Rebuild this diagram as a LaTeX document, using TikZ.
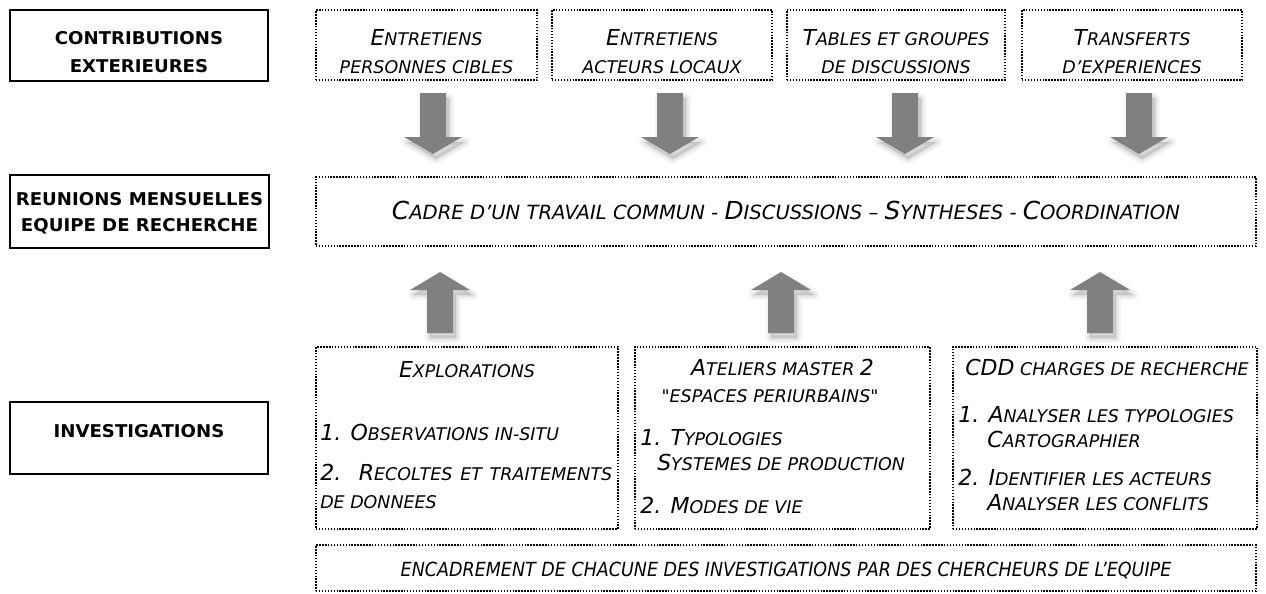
\documentclass[tikz,border=0pt]{standalone}
\usepackage{fontspec}
\setmainfont{DejaVu Sans}[Ligatures=TeXOff]
\newfontfamily\hdfont{DejaVu Sans}[FakeStretch=1.03]
\newfontfamily\condfont{DejaVu Sans}[FakeStretch=0.9]
\newdimen\pxu \pxu=0.75pt
\definecolor{arrowgray}{RGB}{128,128,128}
\newcommand\Bc[1]{{\fontsize{16.5}{20}\selectfont #1}}
\newcommand\Bm[1]{{\fontsize{18.6}{22}\selectfont #1}}
\tikzset{
  solidbox/.style={draw=black, line width=1.5pt, rectangle, inner sep=0pt},
  dotbox/.style={draw=black, line width=1.2pt, dash pattern=on 1.1pt off 1.1pt, rectangle, inner sep=0pt},
  hd/.style={font=\hdfont\bfseries\fontsize{13.2}{15}\selectfont, anchor=base, inner sep=0pt},
  it/.style={font=\itshape\fontsize{13.1}{16}\selectfont, anchor=base, inner sep=0pt},
  itbig/.style={font=\itshape\fontsize{14.7}{18}\selectfont, anchor=base, inner sep=0pt},
  itl/.style={it, anchor=base west},
  shadowlayer/.style={draw=black, line width=#1\pxu, draw opacity=0.04, line join=round},
  downarr/.pic={
    \foreach \w in {10,6,3}{\path[shadowlayer=\w, shift={(3,5)}] (-13,0) -- (13,0) -- (13,44) -- (29,44) -- (0,61) -- (-29,44) -- (-13,44) -- cycle;}
    \fill[black, opacity=0.12, shift={(3,5)}] (-13,0) -- (13,0) -- (13,44) -- (29,44) -- (0,61) -- (-29,44) -- (-13,44) -- cycle;
    \fill[arrowgray] (-13,0) -- (13,0) -- (13,44) -- (29,44) -- (0,61) -- (-29,44) -- (-13,44) -- cycle;
  },
  uparr/.pic={
    \foreach \w in {10,6,3}{\path[shadowlayer=\w, shift={(3,5)}] (0,0) -- (30,18) -- (13,18) -- (13,61) -- (-13,61) -- (-13,18) -- (-30,18) -- cycle;}
    \fill[black, opacity=0.12, shift={(3,5)}] (0,0) -- (30,18) -- (13,18) -- (13,61) -- (-13,61) -- (-13,18) -- (-30,18) -- cycle;
    \fill[arrowgray] (0,0) -- (30,18) -- (13,18) -- (13,61) -- (-13,61) -- (-13,18) -- (-30,18) -- cycle;
  }
}
\begin{document}
\begin{tikzpicture}[x=0.75pt, y=-0.75pt]
\useasboundingbox (0,0) rectangle (1266,593);
\fill[white] (0,0) rectangle (1266,593);

% left column
\node[solidbox, minimum width=258\pxu, minimum height=71\pxu] (L1) at (139,45.5) {};
\node[solidbox, minimum width=259\pxu, minimum height=73\pxu] (L2) at (139.5,211.5) {};
\node[solidbox, minimum width=258\pxu, minimum height=72\pxu] (L3) at (139,438) {};
\node[hd] (L1a) at (139,44) {CONTRIBUTIONS};
\node[hd] (L1b) at (139,72) {EXTERIEURES};
\node[hd] (L2a) at (139.5,205) {REUNIONS MENSUELLES};
\node[hd] (L2b) at (139.5,231) {EQUIPE DE RECHERCHE};
\node[hd] (L3a) at (139,437) {INVESTIGATIONS};

% top row
\node[dotbox, minimum width=221\pxu, minimum height=70\pxu] (B1) at (426.5,45) {};
\node[dotbox, minimum width=220\pxu, minimum height=70\pxu] (B2) at (662,45) {};
\node[dotbox, minimum width=218\pxu, minimum height=70\pxu] (B3) at (896,45) {};
\node[dotbox, minimum width=220\pxu, minimum height=70\pxu] (B4) at (1132,45) {};
\node[it] (B1a) at (426.5,45) {\Bc{E}NTRETIENS};
\node[it] (B1b) at (426.5,73) {PERSONNES CIBLES};
\node[it] (B2a) at (662,45) {\Bc{E}NTRETIENS};
\node[it] (B2b) at (662,73) {ACTEURS LOCAUX};
\node[it] (B3a) at (896,45) {\Bc{T}ABLES ET GROUPES};
\node[it] (B3b) at (896,73) {DE DISCUSSIONS};
\node[it] (B4a) at (1132,45) {\Bc{T}RANSFERTS};
\node[it] (B4b) at (1132,73) {D’EXPERIENCES};

% middle
\node[dotbox, minimum width=940\pxu, minimum height=69\pxu] (M) at (786,211.5) {};
\node[itbig] (Ma) at (786,219) {\Bm{C}ADRE D’UN TRAVAIL COMMUN - \Bm{D}ISCUSSIONS – \Bm{S}YNTHESES - \Bm{C}OORDINATION};

% bottom boxes
\node[dotbox, minimum width=302\pxu, minimum height=182\pxu] (C1) at (467,438) {};
\node[dotbox, minimum width=295\pxu, minimum height=182\pxu] (C2) at (782.5,438) {};
\node[dotbox, minimum width=304\pxu, minimum height=182\pxu] (C3) at (1105,438) {};
\node[it] (C1a) at (467,377) {\Bc{E}XPLORATIONS};
\node[itl] (C1b) at (320,440) {\Bc{1. O}BSERVATIONS IN-SITU};
\node[itl] (C1c) at (320,480) {\makebox[292\pxu][s]{\Bc{2. R}ECOLTES ET TRAITEMENTS}};
\node[itl] (C1d) at (320,508) {DE DONNEES};
\node[it] (C2a) at (782.5,375) {\Bc{A}TELIERS MASTER \Bc{2}};
\node[it] (C2b) at (770,402) {"ESPACES PERIURBAINS"};
\node[itl] (C2c) at (640,445) {\Bc{1. T}YPOLOGIES};
\node[itl] (C2d) at (657,470) {\Bc{S}YSTEMES DE PRODUCTION};
\node[itl] (C2e) at (640,513) {\Bc{2. M}ODES DE VIE};
\node[it] (C3a) at (1107,375) {\Bc{CDD} CHARGES DE RECHERCHE};
\node[itl] (C3b) at (958,422) {\Bc{1. A}NALYSER LES TYPOLOGIES};
\node[itl] (C3c) at (987,447) {\Bc{C}ARTOGRAPHIER};
\node[itl] (C3d) at (958,485) {\Bc{2. I}DENTIFIER LES ACTEURS};
\node[itl] (C3e) at (987,510) {\Bc{A}NALYSER LES CONFLITS};

\node[dotbox, minimum width=940\pxu, minimum height=46\pxu] (D) at (786,568) {};
\node[it, font=\condfont\itshape\fontsize{14.6}{17}\selectfont] (Da) at (786,576) {ENCADREMENT DE CHACUNE DES INVESTIGATIONS PAR DES CHERCHEURS DE L’EQUIPE};

% block arrows
\pic (d1) at (433,93) {downarr};
\pic (d2) at (670,93) {downarr};
\pic (d3) at (905,93) {downarr};
\pic (d4) at (1139,93) {downarr};
\pic (u1) at (440,272) {uparr};
\pic (u2) at (781,272) {uparr};
\pic (u3) at (1100,272) {uparr};
\end{tikzpicture}
\end{document}
